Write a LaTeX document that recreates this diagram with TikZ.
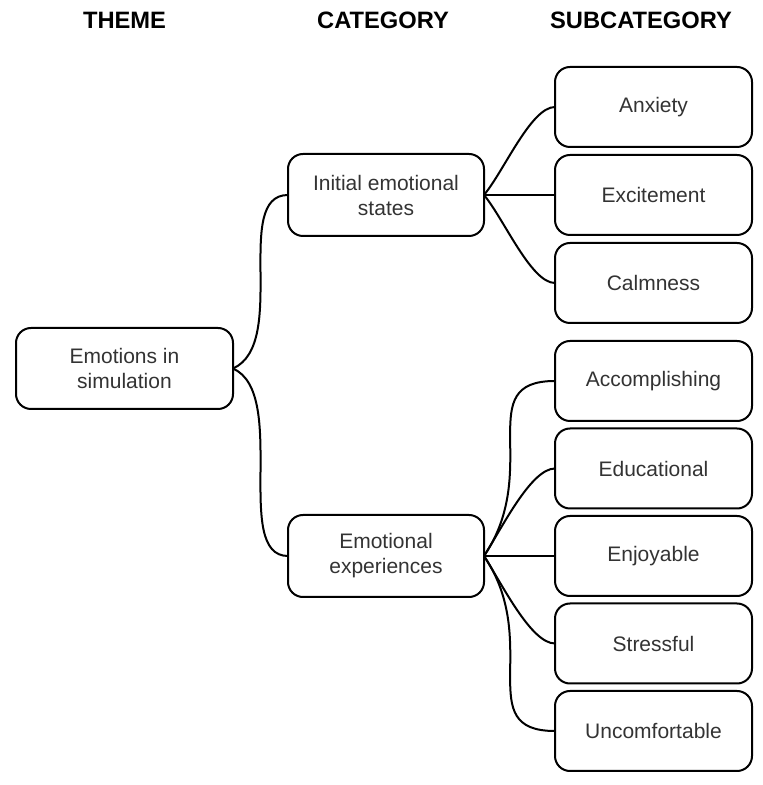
\documentclass[tikz,border=0pt]{standalone}
\usepackage{fontspec}
\setmainfont{Liberation Sans}
\usetikzlibrary{positioning}
\tikzset{
    box/.style={
        draw, line width=2pt, rounded corners=15pt, outer sep=0pt,
        align=center, text=black!80,
        font=\fontsize{21}{25}\selectfont
    },
    theme/.style={box, minimum width=217pt, minimum height=81pt},
    cat/.style={box, minimum width=196pt, minimum height=82pt},
    sub/.style={box, minimum width=197pt, minimum height=80pt},
    head/.style={font=\bfseries\fontsize{23.7}{28}\selectfont},
    branch/.style 2 args={
        to path={
            % #1: pull out of the start, #2: pull into the end
            .. controls +(#1) and +(#2) .. (\tikztotarget) \tikztonodes
        }
    }
}
\begin{document}
\begin{tikzpicture}[x=1pt,y=1pt,line width=2pt]
\useasboundingbox (0,0) rectangle (763,785);
\node(HT) [head] at (124.5,764.5) {THEME};
\node(HC) [head] at (383,764.5)   {CATEGORY};
\node(HS) [head] at (641,764.5)   {SUBCATEGORY};
\node(S1) [sub] at (653.5,678)      {Anxiety};
\node(S2) [sub, below=8pt of S1]    {Excitement};
\node(S3) [sub, below=8pt of S2]    {Calmness};
\node(S4) [sub, below=18pt of S3]   {Accomplishing};
\node(S5) [sub, below=7.5pt of S4]  {Educational};
\node(S6) [sub, below=7.5pt of S5]  {Enjoyable};
\node(S7) [sub, below=7.5pt of S6]  {Stressful};
\node(S8) [sub, below=7.5pt of S7]  {Uncomfortable};
\node(C1) [cat, left=71pt of S2] {Initial emotional\\ states};
\node(C2) [cat, left=71pt of S6] {Emotional\\ experiences};
\node(T)  [theme] at (124.5,416.5) {Emotions in\\ simulation};
\draw (T.east)  to[branch={56,25}{-56,0}]  (C1.west);
\draw (T.east)  to[branch={56,-25}{-56,0}] (C2.west);
\draw (C1.east) to[branch={20,24}{-24,0}]  (S1.west);
\draw (C1.east) --                         (S2.west);
\draw (C1.east) to[branch={20,-24}{-24,0}] (S3.west);
\draw (C2.east) to[branch={59,87}{-84,0}]  (S4.west);
\draw (C2.east) to[branch={18,28}{-24,0}]  (S5.west);
\draw (C2.east) --                         (S6.west);
\draw (C2.east) to[branch={18,-28}{-24,0}] (S7.west);
\draw (C2.east) to[branch={59,-87}{-84,0}] (S8.west);
\end{tikzpicture}
\end{document}
